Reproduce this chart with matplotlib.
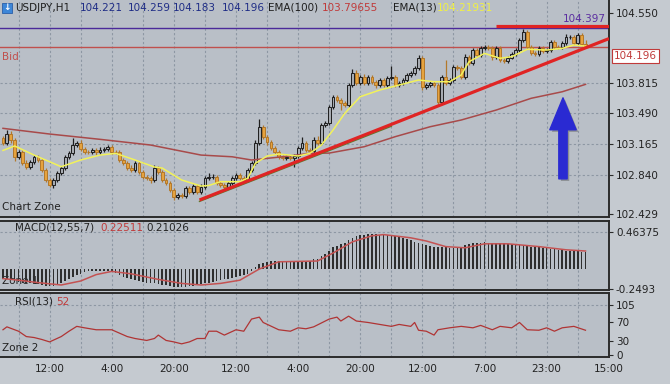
import matplotlib
matplotlib.use("Agg")
import matplotlib.pyplot as plt
from matplotlib import patheffects
from matplotlib.patches import Rectangle

# ---- data (USDJPY H1) ----
first_open = 103.228
closes = [
    103.175, 103.273, 103.210, 103.033, 103.086, 102.964, 102.928, 102.981, 103.027, 102.999,
    102.893, 102.788, 102.735, 102.788, 102.858, 102.911, 103.033, 103.069, 103.157, 103.175,
    103.112, 103.086, 103.082, 103.104, 103.086, 103.104, 103.118, 103.133, 103.086, 103.080,
    102.999, 102.964, 102.911, 102.893, 102.964, 102.875, 102.822, 102.806, 102.788, 102.911,
    102.875, 102.788, 102.753, 102.682, 102.612, 102.630, 102.619, 102.700, 102.664, 102.724,
    102.664, 102.717, 102.806, 102.819, 102.822, 102.753, 102.735, 102.717, 102.753, 102.806,
    102.840, 102.806, 102.788, 102.893, 102.964, 103.175, 103.350, 103.245, 103.192, 103.122,
    103.086, 103.033, 103.016, 103.030, 103.020, 103.041, 103.122, 103.175, 103.104, 103.097,
    103.210, 103.175, 103.368, 103.386, 103.561, 103.667, 103.632, 103.603, 103.579, 103.790,
    103.914, 103.808, 103.878, 103.808, 103.878, 103.825, 103.790, 103.843, 103.790, 103.861,
    103.878, 103.790, 103.808, 103.843, 103.896, 103.914, 103.966, 104.075, 103.772, 103.790,
    103.808, 103.790, 103.614, 103.878, 103.808, 103.843, 103.983, 103.966, 103.878, 104.089,
    104.019, 104.159, 104.107, 104.177, 104.194, 104.177, 104.089, 104.177, 104.054, 104.047,
    104.080, 104.117, 104.159, 104.265, 104.352, 104.194, 104.125, 104.120, 104.177, 104.149,
    104.159, 104.247, 104.194, 104.190, 104.230, 104.300, 104.300, 104.230, 104.318, 104.221,
    104.196,
]
upper_wick = [
    0.02, 0.04, 0.03, 0.02, 0.02, 0.02, 0.03, 0.02, 0.02, 0.02,
    0.02, 0.02, 0.02, 0.02, 0.03, 0.02, 0.02, 0.02, 0.07, 0.02,
    0.03, 0.02, 0.02, 0.02, 0.02, 0.03, 0.02, 0.02, 0.02, 0.02,
    0.02, 0.02, 0.02, 0.03, 0.02, 0.02, 0.02, 0.02, 0.02, 0.03,
    0.02, 0.02, 0.02, 0.02, 0.02, 0.02, 0.02, 0.02, 0.02, 0.02,
    0.02, 0.03, 0.02, 0.04, 0.03, 0.02, 0.02, 0.02, 0.02, 0.02,
    0.02, 0.02, 0.02, 0.02, 0.02, 0.03, 0.08, 0.02, 0.02, 0.02,
    0.02, 0.02, 0.02, 0.02, 0.02, 0.02, 0.02, 0.07, 0.02, 0.02,
    0.03, 0.04, 0.02, 0.02, 0.02, 0.02, 0.02, 0.02, 0.02, 0.02,
    0.04, 0.03, 0.02, 0.03, 0.02, 0.02, 0.02, 0.02, 0.02, 0.02,
    0.11, 0.02, 0.02, 0.02, 0.02, 0.02, 0.02, 0.03, 0.02, 0.02,
    0.02, 0.02, 0.02, 0.02, 0.18, 0.02, 0.02, 0.02, 0.02, 0.03,
    0.02, 0.02, 0.02, 0.02, 0.02, 0.02, 0.02, 0.02, 0.02, 0.02,
    0.02, 0.02, 0.02, 0.02, 0.03, 0.02, 0.02, 0.02, 0.02, 0.02,
    0.02, 0.02, 0.02, 0.02, 0.02, 0.03, 0.02, 0.02, 0.02, 0.02,
    0.04,
]
lower_wick = [
    0.02, 0.02, 0.03, 0.04, 0.02, 0.02, 0.02, 0.02, 0.02, 0.02,
    0.02, 0.02, 0.02, 0.03, 0.02, 0.02, 0.02, 0.02, 0.02, 0.02,
    0.02, 0.02, 0.02, 0.02, 0.03, 0.02, 0.02, 0.02, 0.02, 0.02,
    0.02, 0.02, 0.02, 0.02, 0.02, 0.02, 0.02, 0.02, 0.03, 0.02,
    0.02, 0.02, 0.02, 0.02, 0.035, 0.02, 0.02, 0.02, 0.02, 0.02,
    0.02, 0.02, 0.02, 0.02, 0.02, 0.02, 0.02, 0.03, 0.02, 0.02,
    0.02, 0.02, 0.02, 0.02, 0.02, 0.02, 0.02, 0.02, 0.03, 0.02,
    0.02, 0.02, 0.02, 0.02, 0.02, 0.09, 0.02, 0.02, 0.02, 0.02,
    0.02, 0.02, 0.02, 0.02, 0.02, 0.02, 0.02, 0.08, 0.02, 0.02,
    0.02, 0.02, 0.02, 0.02, 0.02, 0.02, 0.03, 0.02, 0.02, 0.02,
    0.02, 0.02, 0.02, 0.02, 0.02, 0.02, 0.02, 0.02, 0.03, 0.02,
    0.02, 0.02, 0.02, 0.02, 0.02, 0.02, 0.02, 0.02, 0.02, 0.02,
    0.02, 0.02, 0.02, 0.02, 0.02, 0.02, 0.03, 0.02, 0.02, 0.02,
    0.02, 0.02, 0.02, 0.02, 0.02, 0.02, 0.02, 0.02, 0.02, 0.02,
    0.02, 0.02, 0.02, 0.02, 0.02, 0.02, 0.02, 0.02, 0.02, 0.02,
    0.013,
]

ema13_x = [0, 3, 8, 15, 20, 25, 29, 34, 39, 41, 46, 51, 53, 56, 61, 63, 65, 68, 71, 76,
           79, 82, 85, 88, 92, 97, 102, 107, 111, 115, 118, 120, 124, 128, 131, 135, 140,
           144, 147, 150]
ema13_y = [103.10, 103.147, 103.051, 102.928, 102.999, 103.051, 103.069, 102.999, 102.925,
           102.914, 102.788, 102.724, 102.730, 102.770, 102.770, 102.806, 102.964, 103.041,
           103.062, 103.041, 103.069, 103.157, 103.315, 103.491, 103.667, 103.737, 103.790,
           103.843, 103.825, 103.825, 103.896, 104.036, 104.124, 104.072, 104.089, 104.167,
           104.159, 104.177, 104.212, 104.201]
ema100_x = [0, 12, 25, 38, 51, 59, 64, 72, 79, 84, 93, 101, 110, 118, 127, 136, 144, 150]
ema100_y = [103.333, 103.273, 103.217, 103.157, 103.051, 103.033, 102.999, 103.033, 103.069,
            103.072, 103.139, 103.245, 103.350, 103.421, 103.526, 103.650, 103.719, 103.797]

macd_hist = [
    -0.13, -0.13, -0.14, -0.15, -0.16, -0.17, -0.18, -0.18, -0.18, -0.19, -0.20,
    -0.21, -0.21, -0.21, -0.20, -0.18, -0.15, -0.12, -0.10,
    -0.08, -0.06, -0.04, -0.03, -0.02, -0.02, -0.02, -0.02, -0.03, -0.04, -0.05, -0.07,
    -0.10, -0.11, -0.13, -0.14, -0.15, -0.16, -0.17, -0.18, -0.18, -0.19, -0.20, -0.20,
    -0.21, -0.22, -0.22,
    -0.22, -0.22, -0.21, -0.21, -0.20, -0.19, -0.18, -0.17, -0.16, -0.15,
    -0.14, -0.13, -0.12, -0.11, -0.10, -0.09, -0.08, -0.06, -0.03,
    0.02, 0.06, 0.08, 0.09, 0.10, 0.10,
    0.10, 0.10, 0.09, 0.09, 0.09, 0.09, 0.10, 0.10, 0.10, 0.12,
    0.13, 0.16, 0.19, 0.23, 0.27, 0.29, 0.31, 0.33, 0.36, 0.39,
    0.41, 0.42, 0.43, 0.44, 0.44, 0.44, 0.43, 0.43, 0.42, 0.42,
    0.41, 0.40, 0.39, 0.37, 0.36, 0.34, 0.33, 0.31, 0.30, 0.29,
    0.28, 0.27, 0.27, 0.27, 0.26, 0.26, 0.27, 0.28, 0.30, 0.31,
    0.32, 0.33, 0.33, 0.34, 0.33, 0.33, 0.32, 0.32, 0.32, 0.31,
    0.31, 0.31, 0.30, 0.30, 0.29, 0.28, 0.28, 0.27, 0.26, 0.26,
    0.25, 0.25, 0.24, 0.24, 0.23, 0.23, 0.22, 0.22, 0.21, 0.21,
]
signal_x = [0, 4, 9, 15, 20, 24, 28, 33, 40, 46, 51, 56, 61, 66, 71, 76, 81, 85, 90, 95,
            98, 105, 109, 114, 119, 124, 130, 138, 145, 150]
signal_y = [-0.12, -0.14, -0.17, -0.20, -0.15, -0.07, -0.03, -0.06, -0.13, -0.18, -0.20,
            -0.18, -0.14, 0.0, 0.09, 0.095, 0.10, 0.20, 0.34, 0.415, 0.43, 0.39, 0.35, 0.28,
            0.265, 0.315, 0.315, 0.28, 0.24, 0.225]

rsi_x = [0, 1, 4, 6, 8, 10, 12, 15, 17, 19, 21, 24, 28, 30, 32, 34, 37, 39, 40, 42, 44,
         46, 48, 50, 52, 53, 55, 57, 60, 62, 64, 66, 67, 71, 74, 76, 78, 80, 84, 86, 87,
         89, 91, 94, 97, 100, 102, 105, 106, 107, 109, 111, 112, 115, 118, 121, 123, 126,
         128, 131, 133, 135, 138, 140, 142, 144, 147, 150]
rsi_y = [53, 59, 50, 39, 37, 33, 28, 39, 50, 60, 57, 53, 53, 46, 39, 35, 31, 35, 42, 31,
         28, 24, 28, 35, 35, 50, 50, 42, 53, 50, 75, 79, 68, 53, 50, 57, 55, 59, 75, 79,
         71, 81, 71, 68, 64, 60, 64, 60, 68, 52, 50, 42, 53, 57, 60, 57, 62, 53, 60, 57,
         68, 53, 52, 57, 50, 57, 60, 52]

price_ticks = [104.550, 103.815, 103.490, 103.165, 102.840, 102.429]
time_ticks = [12, 28, 44, 60, 76, 92, 108, 124, 140, 156]
time_labels = ["12:00", "4:00", "20:00", "12:00", "4:00", "20:00", "12:00", "7:00", "23:00", "15:00"]

# ---- figure ----
W, H = 670, 384
fig = plt.figure(figsize=(W / 100, H / 100), dpi=100)
fig.patch.set_facecolor("#c5cad0")
plt.rcParams["font.family"] = "DejaVu Sans"

panel_bg = "#b9bfc7"
grid_c = "#8d97a3"
dark = "#2b2b2b"
xlim = (-0.77, 156.05)


def fy(py):
    return 1 - py / H


ax = fig.add_axes([0, fy(217), 609 / W, 217 / H])
ax_m = fig.add_axes([0, fy(290), 609 / W, 69 / H])
ax_r = fig.add_axes([0, fy(357), 609 / W, 64 / H])

for a in (ax, ax_m, ax_r):
    a.set_facecolor(panel_bg)
    a.set_xlim(*xlim)
    a.yaxis.tick_right()
    a.tick_params(axis="y", direction="out", length=3, width=0.8, color=dark,
                  labelsize=7.5, labelcolor="#222222", pad=2)
    for s in a.spines.values():
        s.set_color(dark)
        s.set_linewidth(1.4)
    a.spines["left"].set_visible(False)
    for gx in range(4, 157, 8):
        a.axvline(gx, color=grid_c, lw=0.8, ls=(0, (2, 2)), zorder=0.5)

ax.spines["top"].set_visible(False)
ax.tick_params(axis="x", bottom=False, labelbottom=False)
ax_m.tick_params(axis="x", bottom=False, labelbottom=False)

# ---- main price panel ----
ax.set_ylim(102.3975, 104.6872)
ax.set_yticks(price_ticks)
ax.set_yticklabels([f"{p:.3f}" for p in price_ticks])
for p in price_ticks[1:-1]:
    ax.axhline(p, color=grid_c, lw=0.8, ls=(0, (2, 2)), zorder=0.5)

ax.axhline(104.397, color="#4b2a9a", lw=1.0, zorder=2)
ax.axhline(104.196, color="#c0504d", lw=1.0, zorder=2)

opens = [first_open] + closes[:-1]
for i, (o, c) in enumerate(zip(opens, closes)):
    bull = c >= o
    edge = "#1e1e1e" if bull else "#b3782a"
    face = "#a7abb1" if bull else "#e6a33e"
    hi = max(o, c) + upper_wick[i]
    lo = min(o, c) - lower_wick[i]
    ax.vlines(i, lo, hi, color=edge, lw=0.9, zorder=3)
    ax.bar(i, c - o, bottom=o, width=0.72, color=face, edgecolor=edge, lw=0.7, zorder=3.5)

ax.plot(ema100_x, ema100_y, color="#a84a4a", lw=1.1, zorder=4)
ax.plot(ema13_x, ema13_y, color="#f2f25a", lw=1.1, zorder=4)

# trend lines
ax.plot([50.6, 100], [102.562, 103.355], color="#5f7a2e", lw=1.0, zorder=4.5)
ax.plot([50.6, 156.05], [102.577, 104.280], color="#e02424", lw=2.3, zorder=5,
        solid_capstyle="butt")
ax.plot([127, 156.05], [104.41, 104.41], color="#e02424", lw=2.3, zorder=5,
        solid_capstyle="butt")

ax.annotate("", xy=(144.2, 103.655), xytext=(144.2, 102.80),
            arrowprops=dict(arrowstyle="simple,head_length=2.3,head_width=1.9,tail_width=0.6",
                            mutation_scale=10, color="#2a2ad2", shrinkA=0, shrinkB=0,
                            path_effects=[patheffects.withSimplePatchShadow(
                                offset=(1.5, -1.5), shadow_rgbFace="#555555", alpha=0.45)]),
            zorder=6)

ax.text(0.995, 1 - 19 / 217, "104.397", transform=ax.transAxes, ha="right", va="center",
        fontsize=7.5, color="#5a2da0")
ax.text(0.004, 1 - 57 / 217, "Bid", transform=ax.transAxes, ha="left", va="center",
        fontsize=7.5, color="#c0504d")
ax.text(0.004, 1 - 207 / 217, "Chart Zone", transform=ax.transAxes, ha="left", va="center",
        fontsize=7.5, color="#222222")

# ---- MACD panel ----
ax_m.set_ylim(-0.2625, 0.60)
ax_m.set_yticks([0.46375, -0.2493])
ax_m.set_yticklabels(["0.46375", "-0.2493"])
ax_m.axhline(0.46375, color=grid_c, lw=0.8, ls=(0, (2, 2)), zorder=0.5)
ax_m.text(0.004, 1 - 60 / 69, "Zone 1", transform=ax_m.transAxes, ha="left", va="center",
          fontsize=7.5, color="#222222", zorder=1)
ax_m.bar(range(len(macd_hist)), macd_hist, width=0.42, color="#2e2e2e", zorder=3)
ax_m.plot(signal_x, signal_y, color="#c45252", lw=1.1, zorder=4)
ax_m.text(15 / 609, 1 - 7 / 69, "MACD(12,55,7)", transform=ax_m.transAxes, ha="left",
          va="center", fontsize=7.5, color="#222222")
ax_m.text(100 / 609, 1 - 7 / 69, "0.22511", transform=ax_m.transAxes, ha="left",
          va="center", fontsize=7.5, color="#c03a3a")
ax_m.text(146 / 609, 1 - 7 / 69, "0.21026", transform=ax_m.transAxes, ha="left",
          va="center", fontsize=7.5, color="#222222")

# ---- RSI panel ----
ax_r.set_ylim(-3.1, 128.7)
ax_r.set_yticks([105, 70, 30, 0])
ax_r.axhline(105, color=grid_c, lw=0.8, ls=(0, (2, 2)), zorder=0.5)
ax_r.plot(rsi_x, rsi_y, color="#b03434", lw=0.9, zorder=3)
ax_r.set_xticks(time_ticks)
ax_r.set_xticklabels(time_labels)
ax_r.tick_params(axis="x", length=0, labelsize=7.5, labelcolor="#222222", pad=5)
ax_r.text(15 / 609, 1 - 9 / 64, "RSI(13)", transform=ax_r.transAxes, ha="left",
          va="center", fontsize=7.5, color="#222222")
ax_r.text(56 / 609, 1 - 9 / 64, "52", transform=ax_r.transAxes, ha="left",
          va="center", fontsize=7.5, color="#c03a3a")
ax_r.text(0.004, 1 - 55 / 64, "Zone 2", transform=ax_r.transAxes, ha="left", va="center",
          fontsize=7.5, color="#222222")

# ---- header line ----
fig.add_artist(Rectangle((2 / W, fy(13)), 10 / W, 10 / H, transform=fig.transFigure,
                         facecolor="#3d86d8", edgecolor="#2a5fa8", lw=0.6))
fig.text(7 / W, fy(7.5), "\u2193", ha="center", va="center", fontsize=6.5,
         color="white", fontweight="bold")
header = [
    (15, "USDJPY,H1", "#1e1e1e"),
    (80, "104.221", "#1f2d86"),
    (128, "104.259", "#1f2d86"),
    (173, "104.183", "#1f2d86"),
    (222, "104.196", "#1f2d86"),
    (268, "EMA(100)", "#1e1e1e"),
    (322, "103.79655", "#c03a3a"),
    (393, "EMA(13)", "#1e1e1e"),
    (437, "104.21931", "#f0f044"),
]
for px, s, col in header:
    fig.text(px / W, fy(8), s, ha="left", va="center", fontsize=7.5, color=col)

# bid price tag on the scale
fig.text(614 / W, fy(56), "104.196", ha="left", va="center", fontsize=7.5, color="#c03a3a",
         bbox=dict(boxstyle="square,pad=0.2", facecolor="white", edgecolor="#c03a3a", lw=0.8))

fig.savefig("out.png", dpi=100, facecolor=fig.get_facecolor())
